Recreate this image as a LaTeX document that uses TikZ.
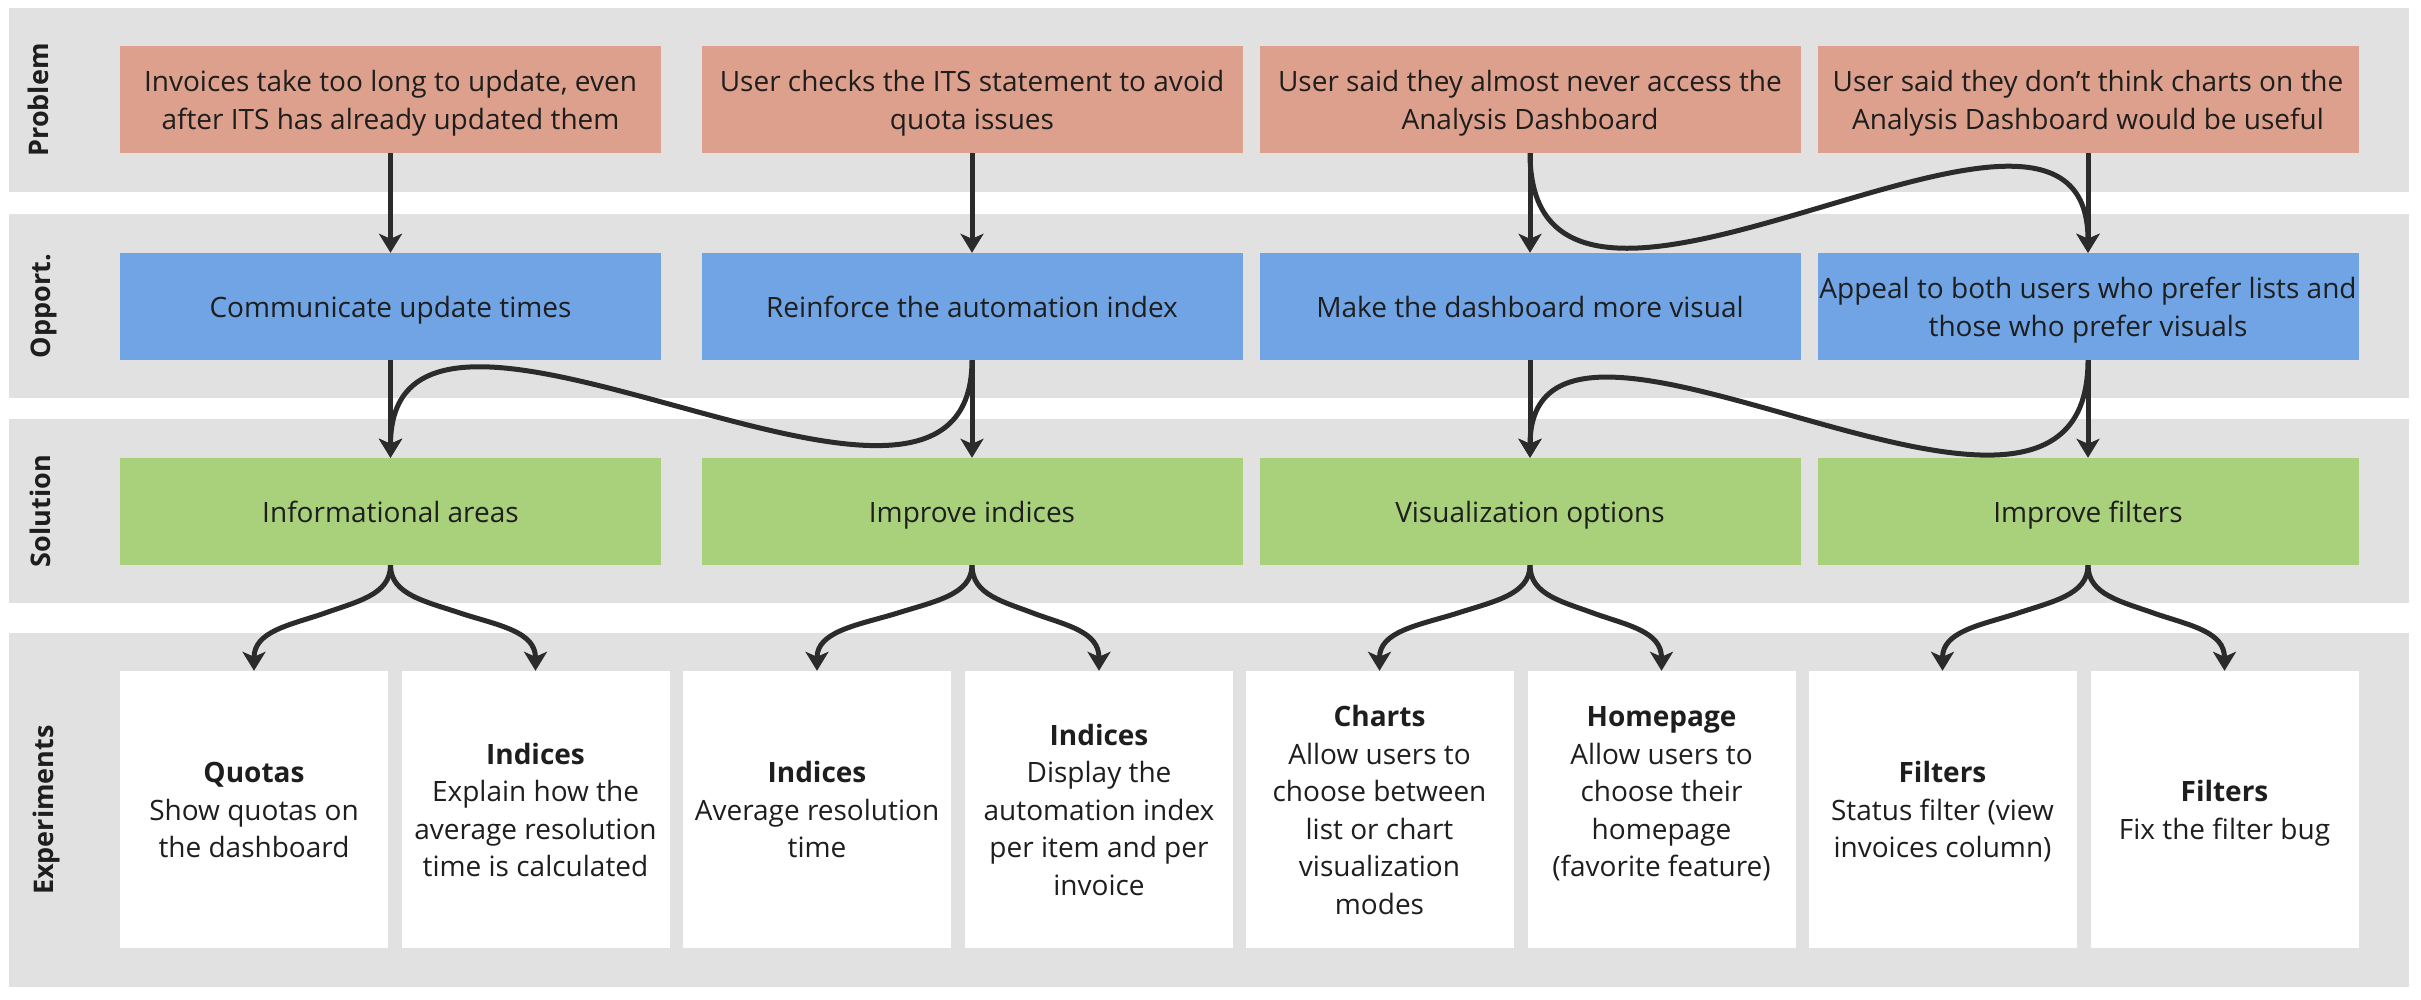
\documentclass[tikz,border=0pt]{standalone}
\usepackage{fontspec}
\setmainfont{Open Sans}
\usetikzlibrary{arrows.meta,calc}
\definecolor{bandgray}{HTML}{E1E1E1}
\definecolor{probc}{HTML}{DDA08D}
\definecolor{oppc}{HTML}{70A4E4}
\definecolor{solc}{HTML}{A9D07A}
\definecolor{inkc}{HTML}{1E1E1E}
\definecolor{arrc}{HTML}{2B2B2B}
\newcommand\sa{\rule{0pt}{30pt}}
\newcommand\sz{\rule[-8.5pt]{0pt}{0pt}}
\newcommand\ea{\rule{0pt}{29.5pt}}
\newcommand\ez{\rule[-8pt]{0pt}{0pt}}
\newcommand\forkto[2]{\draw[arr] (#1.south) .. controls ($(#1.south)+(0,30)$) and ($(#1.south)!0.25!(#2.north)+(0,10)$) .. ($(#1.south)!0.5!(#2.north)+(0,-4)$) .. controls ($(#1.south)!0.75!(#2.north)+(0,-19)$) and ($(#2.north)+(0,-39)$) .. (#2.north);}
\begin{document}
\begin{tikzpicture}[x=1pt,y=-1pt,
  band/.style={fill=bandgray},
  txt/.style={font=\fontsize{28}{38.5}\selectfont, text=inkc, align=center, inner xsep=0pt, inner ysep=0pt},
  cbox/.style={txt, minimum width=541pt, minimum height=107pt},
  prob/.style={cbox, fill=probc},
  opp/.style={cbox, fill=oppc},
  sol/.style={cbox, fill=solc},
  exbox/.style={txt, font=\fontsize{28}{37.5}\selectfont, fill=white, minimum width=268pt, minimum height=277pt},
  lbl/.style={font=\fontsize{27}{32}\selectfont\bfseries, text=inkc, rotate=90, anchor=base, inner sep=0pt},
  arr/.style={draw=arrc, line width=5pt, -{Stealth[length=19pt,width=23pt,inset=5pt]}}
]
\useasboundingbox (0,0) rectangle (2421,999);
% bands
\fill[band] (9,8) rectangle (2409,192);
\fill[band] (9,214) rectangle (2409,398);
\fill[band] (9,419) rectangle (2409,603);
\fill[band] (9,633) rectangle (2409,987);
% labels
\node[lbl] (lp) at (48,100) {Problem};
\node[lbl] (lo) at (50,306) {Opport.};
\node[lbl] (ls) at (50,511) {Solution};
\node[lbl] (le) at (53,810) {Experiments};
% problem
\node[prob] (p1) at (390.5,99.5) {\sa Invoices take too long to update, even\\after ITS has already updated them\sz};
\node[prob] (p2) at (972,99.5) {\sa User checks the ITS statement to avoid\\quota issues\sz};
\node[prob] (p3) at (1530,99.5) {\sa User said they almost never access the\\Analysis Dashboard\sz};
\node[prob] (p4) at (2088,99.5) {\sa User said they don’t think charts on the\\Analysis Dashboard would be useful\sz};
% opportunities
\node[opp] (o1) at (390.5,306.5) {\sa Communicate update times\sz};
\node[opp] (o2) at (972,306.5) {\sa Reinforce the automation index\sz};
\node[opp] (o3) at (1530,306.5) {\sa Make the dashboard more visual\sz};
\node[opp] (o4) at (2088,306.5) {\sa Appeal to both users who prefer lists and\\those who prefer visuals\sz};
% solutions
\node[sol] (s1) at (390.5,511.5) {\sa Informational areas\sz};
\node[sol] (s2) at (972,511.5) {\sa Improve indices\sz};
\node[sol] (s3) at (1530,511.5) {\sa Visualization options\sz};
\node[sol] (s4) at (2088,511.5) {\sa Improve filters\sz};
% experiments
\node[exbox] (e1) at (254,809.5) {\ea\textbf{Quotas}\\Show quotas on\\the dashboard\ez};
\node[exbox] (e2) at (535.5,809.5) {\ea\textbf{Indices}\\Explain how the\\average resolution\\time is calculated\ez};
\node[exbox] (e3) at (817,809.5) {\ea\textbf{Indices}\\Average resolution\\time\ez};
\node[exbox] (e4) at (1099,809.5) {\ea\textbf{Indices}\\Display the\\automation index\\per item and per\\invoice\ez};
\node[exbox] (e5) at (1379.5,809.5) {\ea\textbf{Charts}\\Allow users to\\choose between\\list or chart\\visualization\\modes\ez};
\node[exbox] (e6) at (1661.5,809.5) {\ea\textbf{Homepage}\\Allow users to\\choose their\\homepage\\(favorite feature)\\\mbox{}\ez};
\node[exbox] (e7) at (1942.5,809.5) {\ea\textbf{Filters}\\Status filter (view\\invoices column)\ez};
\node[exbox] (e8) at (2224.5,809.5) {\ea\textbf{Filters}\\Fix the filter bug\ez};
% straight connectors
\draw[arr] (p1.south) -- (o1.north);
\draw[arr] (p2.south) -- (o2.north);
\draw[arr] (p3.south) -- (o3.north);
\draw[arr] (p4.south) -- (o4.north);
\draw[arr] (o1.south) -- (s1.north);
\draw[arr] (o2.south) -- (s2.north);
\draw[arr] (o3.south) -- (s3.north);
\draw[arr] (o4.south) -- (s4.north);
% cross connectors
\draw[arr] (p3.south) .. controls +(0,270) and +(0,-245) .. (o4.north);
\draw[arr] (o2.south) .. controls +(0,250) and +(0,-250) .. (s1.north);
\draw[arr] (o4.south) .. controls +(0,265) and +(0,-230) .. (s3.north);
% forks
\forkto{s1}{e1}
\forkto{s1}{e2}
\forkto{s2}{e3}
\forkto{s2}{e4}
\forkto{s3}{e5}
\forkto{s3}{e6}
\forkto{s4}{e7}
\forkto{s4}{e8}
\end{tikzpicture}
\end{document}
